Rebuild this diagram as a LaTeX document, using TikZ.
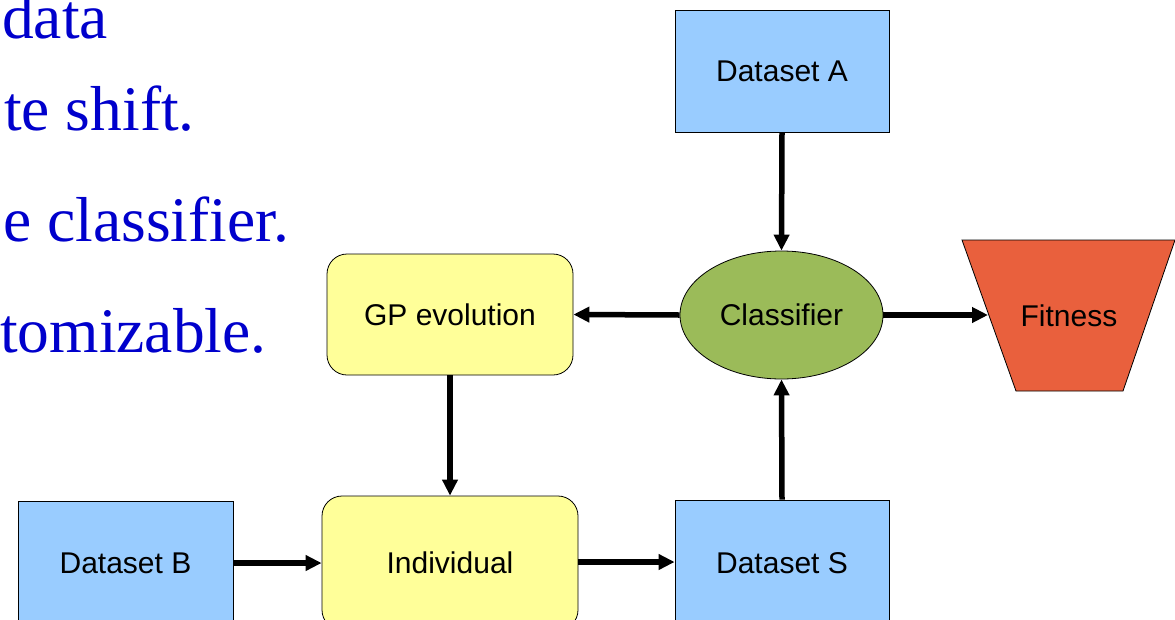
\documentclass[tikz,border=0pt]{standalone}
\usepackage{fontspec}
\setmainfont{Liberation Sans}
\newfontfamily\serifblue{Liberation Serif}
\usetikzlibrary{arrows.meta,shapes.geometric}
\definecolor{dsblue}{HTML}{99CCFF}
\definecolor{gpyellow}{HTML}{FFFF99}
\definecolor{clsgreen}{HTML}{9BBB59}
\definecolor{fitorange}{HTML}{E9603D}
\definecolor{txtblue}{HTML}{0000CC}
\tikzset{
  box/.style={draw=black, line width=0.8pt, inner sep=0pt, align=center, font=\fontsize{30}{35}\selectfont},
  dsbox/.style={box, fill=dsblue, rectangle},
  gpbox/.style={box, fill=gpyellow, rectangle, rounded corners=20pt},
  clsbox/.style={box, fill=clsgreen, ellipse},
  flow/.style={line width=5.5pt, -{Triangle[length=16pt,width=15pt]}},
  bullet/.style={anchor=base west, inner sep=0pt, text=txtblue, font=\serifblue\fontsize{63.5}{70}\selectfont},
}
\begin{document}
\begin{tikzpicture}[x=1pt,y=-1pt]
\useasboundingbox (0,0) rectangle (1175,619);
\clip (0,0) rectangle (1175,619);
\fill[white] (0,0) rectangle (1175,619);
% bullet text fragments
\node[bullet] (t1) at (2,38) {data};
\node[bullet] (t2) at (4,130) {te shift.};
\node[bullet] (t3) at (3,241) {e classifier.};
\node[bullet] (t4) at (0,352) {tomizable.};
% nodes
\node[dsbox, minimum width=214pt, minimum height=122pt] (dsA) at (782,71) {Dataset A};
\node[clsbox, minimum width=203pt, minimum height=128pt] (cls) at (781.5,315) {Classifier};
\node[gpbox, minimum width=246pt, minimum height=121pt] (gp) at (450,314.5) {GP evolution};
\node[dsbox, minimum width=215pt, minimum height=124pt] (dsB) at (125.5,563) {Dataset B};
\node[gpbox, minimum width=256pt, minimum height=134pt] (ind) at (450,563) {Individual};
\node[dsbox, minimum width=214pt, minimum height=126pt] (dsS) at (782,563) {Dataset S};
% fitness trapezoid
\draw[line width=0.8pt, fill=fitorange] (962,240) -- (1175,240) -- (1123,391) -- (1016,391) -- cycle;
\node[inner sep=0pt, font=\fontsize{30}{35}\selectfont] (fit) at (1069,316) {Fitness};
\coordinate (fitin) at (988,315);
% connectors
\draw[flow] (dsA.south) -- (cls.north);
\draw[flow] (cls.west) -- (gp.east);
\draw[flow] (cls.east) -- (fitin);
\draw[flow] (gp.south) -- (ind.north);
\draw[flow] (dsB.east |- 0,563) -- (ind.west |- 0,563);
\draw[flow] (ind.east |- 0,562) -- (dsS.west |- 0,562);
\draw[flow] (dsS.north) -- (cls.south);
\end{tikzpicture}
\end{document}
